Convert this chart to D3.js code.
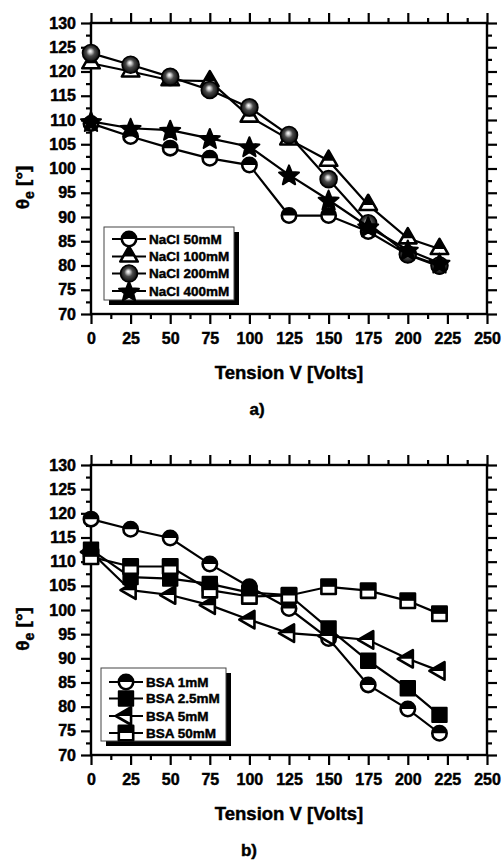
<!DOCTYPE html>
<html>
<head>
<meta charset="utf-8">
<script src="https://cdn.jsdelivr.net/npm/d3@7"></script>
<style>
  html, body { margin: 0; padding: 0; background: #fff; }
  svg { display: block; }
  svg text { font-family: "Liberation Sans", Arial, sans-serif; font-weight: 700; fill: #000; stroke: #000; stroke-width: 0.45px; }
</style>
</head>
<body>
<svg id="chart" width="504" height="860"></svg>
<script>
// ---------- data ----------
const voltage = [0, 25, 50, 75, 100, 125, 150, 175, 200, 220];

const nacl50  = [109.3, 106.6, 104.2, 102.1, 100.7, 90.3, 90.3, 87.0, 82.2, 79.8];
const nacl100 = [121.7, 120.0, 118.2, 118.0, 110.7, 106.0, 101.6, 92.5, 85.6, 83.4];
const nacl200 = [123.8, 121.4, 118.9, 116.2, 112.6, 106.9, 97.8, 88.7, 82.3, 80.0];
const nacl400 = [109.7, 108.3, 107.9, 106.2, 104.5, 98.7, 93.5, 88.0, 83.2, 80.5];

const bsa1   = [118.8, 116.7, 114.9, 109.5, 104.8, 100.3, 94.1, 84.5, 79.5, 74.5];
const bsa2_5 = [112.5, 106.8, 106.5, 105.4, 103.6, 103.1, 96.2, 89.5, 83.8, 78.3];
const bsa5   = [112.0, 104.1, 103.1, 101.0, 98.0, 95.2, 94.6, 93.8, 89.9, 87.4];
const bsa50  = [111.0, 109.0, 109.0, 104.1, 102.8, 103.0, 104.8, 104.0, 101.9, 99.2];

const namesA = ["NaCl 50mM", "NaCl 100mM", "NaCl 200mM", "NaCl 400mM"];
const namesB = ["BSA 1mM", "BSA 2.5mM", "BSA 5mM", "BSA 50mM"];

const xTicks = [0, 25, 50, 75, 100, 125, 150, 175, 200, 225, 250];
const yTicks = [70, 75, 80, 85, 90, 95, 100, 105, 110, 115, 120, 125, 130];
const xLabel = "Tension V [Volts]";

// ---------- setup ----------
const svg = d3.select("#chart");
const defs = svg.append("defs");

const grad = defs.append("radialGradient").attr("id", "sphere")
  .attr("cx", "0.5").attr("cy", "0.5").attr("r", "0.55")
  .attr("fx", "0.45").attr("fy", "0.38");
grad.append("stop").attr("offset", "0%").attr("stop-color", "#ffffff");
grad.append("stop").attr("offset", "18%").attr("stop-color", "#c8c8c8");
grad.append("stop").attr("offset", "45%").attr("stop-color", "#4a4a4a");
grad.append("stop").attr("offset", "100%").attr("stop-color", "#000000");

// shape outlines and their upper (filled) halves, centred on (0,0)
const S = 17.5, H = S * 0.866, A = 7.2, R = 7.2;
const shapes = {
  circle: {
    full: `M${-R},0A${R},${R} 0 1,0 ${R},0A${R},${R} 0 1,0 ${-R},0Z`,
    top: `M${-R},0A${R},${R} 0 0,1 ${R},0Z`
  },
  triUp: {
    full: `M0,${-2*H/3}L${S/2},${H/3}L${-S/2},${H/3}Z`,
    top: `M0,${-2*H/3}L${S/3},0L${-S/3},0Z`
  },
  triLeft: {
    full: `M${-2*H/3},0L${H/3},${-S/2}L${H/3},${S/2}Z`,
    top: `M${-2*H/3},0L${H/3},${-S/2}L${H/3},0Z`
  },
  square: {
    full: `M${-A},${-A}H${A}V${A}H${-A}Z`,
    top: `M${-A},${-A}H${A}V0H${-A}Z`
  },
  sphere: {
    full: `M-8.5,0A8.5,8.5 0 1,0 8.5,0A8.5,8.5 0 1,0 -8.5,0Z`
  },
  star: {
    full: (() => {
      const Ro = 10.5, ri = 4.6; let p = "";
      for (let i = 0; i < 10; i++) {
        const rad = i % 2 === 0 ? Ro : ri;
        const a = -Math.PI / 2 + i * Math.PI / 5;
        p += (i === 0 ? "M" : "L") + (rad * Math.cos(a)).toFixed(2) + "," + (rad * Math.sin(a) + 1).toFixed(2);
      }
      return p + "Z";
    })()
  }
};

function drawMarker(g, shape, fillMode) {
  const sh = shapes[shape];
  if (fillMode === "sphere") {
    g.append("path").attr("d", sh.full).attr("fill", "url(#sphere)").attr("stroke", "#000").attr("stroke-width", 1.6);
  } else if (fillMode === "full") {
    g.append("path").attr("d", sh.full).attr("fill", "#000").attr("stroke", "#000").attr("stroke-width", 2)
      .attr("stroke-linejoin", "round");
  } else {
    g.append("path").attr("d", sh.full).attr("fill", "#fff");
    g.append("path").attr("d", sh.top).attr("fill", "#000");
    g.append("path").attr("d", sh.full).attr("fill", "none").attr("stroke", "#000").attr("stroke-width", 2.6)
      .attr("stroke-linejoin", "round");
  }
}

function panel(cfg) {
  const x = d3.scaleLinear().domain([0, 250]).range([91, 487]);
  const y = d3.scaleLinear().domain([70, 130]).range([cfg.bottom, cfg.top]);
  const g = svg.append("g");

  const minorX = d3.range(12.5, 250, 25);
  const minorY = d3.range(72.5, 130, 5);

  const mk = (axisFn, scale, vals, size, fmt) =>
    axisFn(scale).tickValues(vals).tickSize(size).tickSizeOuter(0).tickFormat(fmt);

  const styleAxis = sel => {
    sel.attr("font-family", null).attr("font-size", null);
    sel.select(".domain").remove();
    sel.selectAll(".tick line").attr("stroke", "#000").attr("stroke-width", 2.2);
    sel.selectAll(".tick text").attr("fill", "#000").style("font-size", "16px");
  };

  // bottom
  g.append("g").attr("transform", `translate(0,${cfg.bottom})`)
    .call(mk(d3.axisBottom, x, minorX, 5, "")).call(styleAxis);
  g.append("g").attr("transform", `translate(0,${cfg.bottom})`)
    .call(mk(d3.axisBottom, x, xTicks, 10, d3.format("d")).tickPadding(9)).call(styleAxis);
  // top
  g.append("g").attr("transform", `translate(0,${cfg.top})`)
    .call(mk(d3.axisTop, x, minorX, 5, "")).call(styleAxis);
  g.append("g").attr("transform", `translate(0,${cfg.top})`)
    .call(mk(d3.axisTop, x, xTicks, 10, "")).call(styleAxis);
  // left
  g.append("g").attr("transform", `translate(91,0)`)
    .call(mk(d3.axisLeft, y, minorY, 5, "")).call(styleAxis);
  g.append("g").attr("transform", `translate(91,0)`)
    .call(mk(d3.axisLeft, y, yTicks, 10, d3.format("d")).tickPadding(5)).call(styleAxis);
  // right
  g.append("g").attr("transform", `translate(487,0)`)
    .call(mk(d3.axisRight, y, minorY, 5, "")).call(styleAxis);
  g.append("g").attr("transform", `translate(487,0)`)
    .call(mk(d3.axisRight, y, yTicks, 10, "")).call(styleAxis);

  // frame
  g.append("rect").attr("x", 91).attr("y", cfg.top).attr("width", 396).attr("height", cfg.bottom - cfg.top)
    .attr("fill", "none").attr("stroke", "#000").attr("stroke-width", 2.4);

  // series
  const line = d3.line().x(d => x(d[0])).y(d => y(d[1]));
  cfg.series.forEach(s => {
    const pts = voltage.map((v, i) => [v, s.values[i]]);
    g.append("path").attr("d", line(pts)).attr("fill", "none").attr("stroke", "#000").attr("stroke-width", 2.2);
    pts.forEach(p => {
      const mg = g.append("g").attr("transform", `translate(${x(p[0])},${y(p[1])})`);
      drawMarker(mg, s.shape, s.fill);
    });
  });

  // legend
  const L = cfg.legend;
  g.append("rect").attr("x", L.x + 5).attr("y", L.y + 5).attr("width", L.w).attr("height", L.h).attr("fill", "#000");
  g.append("rect").attr("x", L.x).attr("y", L.y).attr("width", L.w).attr("height", L.h)
    .attr("fill", "#fff").attr("stroke", "#444").attr("stroke-width", 1);
  cfg.series.forEach((s, i) => {
    const yy = L.rows[i];
    g.append("line").attr("x1", L.x + 8).attr("x2", L.x + 42).attr("y1", yy).attr("y2", yy)
      .attr("stroke", "#000").attr("stroke-width", 2.2);
    const mg = g.append("g").attr("transform", `translate(${L.x + 25},${yy})`);
    drawMarker(mg, s.shape, s.fill);
    g.append("text").attr("x", L.x + 45).attr("y", yy).attr("dy", "0.36em")
      .style("font-size", "13.5px").text(s.name);
  });

  // axis titles
  g.append("text").attr("x", 289).attr("y", cfg.bottom + 65).attr("text-anchor", "middle")
    .style("font-size", "18.5px").text(xLabel);
  const yl = g.append("text").attr("transform", `translate(29,${(cfg.top + cfg.bottom) / 2 + 19}) rotate(-90)`)
    .attr("text-anchor", "middle").style("font-size", "19px");
  yl.append("tspan").text("θ");
  yl.append("tspan").attr("dy", 5).style("font-size", "14px").text("e");
  yl.append("tspan").attr("dy", -5).text(" [°]");

  g.append("text").attr("x", cfg.tagX).attr("y", cfg.bottom + 101).attr("text-anchor", "middle")
    .style("font-size", "17px").text(cfg.tag);
}

panel({
  top: 23, bottom: 314, tag: "a)", tagX: 257,
  series: [
    { name: namesA[0], values: nacl50, shape: "circle", fill: "half" },
    { name: namesA[1], values: nacl100, shape: "triUp", fill: "half" },
    { name: namesA[2], values: nacl200, shape: "sphere", fill: "sphere" },
    { name: namesA[3], values: nacl400, shape: "star", fill: "full" }
  ],
  legend: { x: 104, y: 227, w: 130, h: 73, rows: [239, 256.5, 273.5, 291] }
});

panel({
  top: 465, bottom: 755, tag: "b)", tagX: 249,
  series: [
    { name: namesB[0], values: bsa1, shape: "circle", fill: "half" },
    { name: namesB[1], values: bsa2_5, shape: "square", fill: "full" },
    { name: namesB[2], values: bsa5, shape: "triLeft", fill: "half" },
    { name: namesB[3], values: bsa50, shape: "square", fill: "half" }
  ],
  legend: { x: 101, y: 668, w: 125, h: 73, rows: [682, 698.5, 716, 733] }
});
</script>
</body>
</html>
